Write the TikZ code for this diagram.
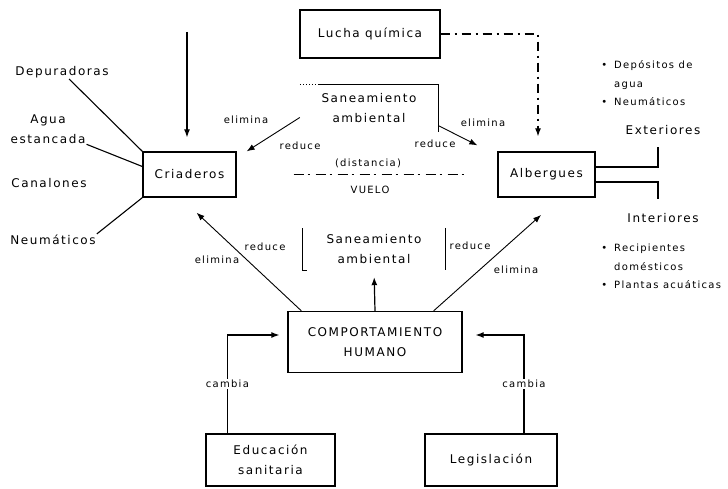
\documentclass[tikz,border=0pt]{standalone}
\usepackage{fontspec}
\setmainfont{DejaVu Sans}[LetterSpace=13]
\usetikzlibrary{arrows.meta}

\begin{document}
\begin{tikzpicture}[x=1pt,y=-1pt,>=Latex,
  font=\fontsize{12}{20}\selectfont,
  box/.style={draw,line width=1.3pt,align=center,inner sep=0pt},
  txt/.style={align=center,inner sep=1pt},
  item/.style={anchor=west,align=left,inner sep=1pt,font=\fontsize{10}{19}\selectfont},
  lbl/.style={inner sep=1pt,font=\fontsize{10}{12}\selectfont},
  ln/.style={line width=1.1pt},
  arr/.style={-{Latex[length=8pt,width=6pt]},line width=1.2pt},
  tarr/.style={-{Latex[length=8pt,width=6pt]},line width=0.9pt},
  darr/.style={arr,dash pattern=on 9pt off 5pt on 2pt off 5pt}]
\useasboundingbox (0,0) rectangle (728,489);
\node[box,minimum width=140pt,minimum height=48pt] (lucha) at (370,34) {Lucha química};
\node[txt,minimum width=138pt,minimum height=47pt] (san1) at (369,108.5) {Saneamiento\\ambiental};
\node[box,minimum width=93pt,minimum height=45pt] (crid) at (189.5,174.5) {Criaderos};
\node[box,minimum width=97pt,minimum height=45pt] (alb) at (546.5,174.5) {Albergues};
\node[txt,minimum width=142pt,minimum height=42pt] (san2) at (374,249) {Saneamiento\\ambiental};
\node[box,minimum width=174pt,minimum height=61pt] (comp) at (375,342) {COMPORTAMIENTO\\HUMANO};
\node[box,minimum width=129pt,minimum height=52pt] (edu) at (270.5,460) {Educación\\sanitaria};
\node[box,minimum width=132pt,minimum height=52pt] (leg) at (491,460) {Legislación};
\draw[ln,dotted] (san1.north west) -- ([xshift=18pt]san1.north west);
\draw[ln] ([xshift=18pt]san1.north west) -- (san1.north east) -- (san1.south east);
\draw[ln] ([xshift=4pt]san2.south west) -- (san2.south west) -- (san2.north west);
\draw[ln] (san2.north east) -- (san2.south east);

\node[txt] (dep) at (62,72) {Depuradoras};
\node[txt] (agua) at (48,129) {Agua\\estancada};
\node[txt] (can) at (49,183) {Canalones};
\node[txt] (neu) at (53,240) {Neumáticos};
\draw[ln] (dep) -- (crid.north west);
\draw[ln] (agua) -- ([yshift=8pt]crid.west);
\draw[ln] (neu.north east) -- (crid.south west);

\node[item] (depo) at (613,75) {\llap{\textbullet\hspace{7pt}}Depósitos de\\agua};
\node[item] (neu2) at (613,102) {\llap{\textbullet\hspace{7pt}}Neumáticos};
\node[txt] (ext) at (663,130) {Exteriores};
\node[txt] (int) at (663,218) {Interiores};
\node[item] (rec) at (613,257.5) {\llap{\textbullet\hspace{7pt}}Recipientes\\domésticos};
\node[item] (pla) at (613,285) {\llap{\textbullet\hspace{7pt}}Plantas acuáticas};
\draw[ln] ([yshift=7.5pt]alb.east) -| ([xshift=-5pt,yshift=-11pt]ext.south);
\draw[ln] ([yshift=-7.5pt]alb.east) -| ([xshift=-5pt,yshift=13pt]int.north);

\coordinate (top) at (187,32);
\draw[arr,shorten >=14pt] (top) -- ([xshift=-2.5pt]crid.north);
\draw[darr,shorten >=15pt] (lucha.east) -| ([xshift=-8.5pt]alb.north);

\draw[tarr] ([yshift=-9pt]san1.west) -- ([xshift=10pt]crid.north east);
\draw[tarr] ([yshift=-17pt]san1.east) -- ([xshift=-20pt,yshift=6pt]alb.north west);
\node[lbl] (e1) at (246,120) {elimina};
\node[lbl] (r1) at (300,146) {reduce};
\node[lbl] (e2) at (483,123) {elimina};
\node[lbl] (r2) at (435,144) {reduce};

\draw[ln,dash pattern=on 10pt off 4pt on 2pt off 6pt,shorten <=57pt,shorten >=31pt] (crid.east) -- (alb.west);
\node[lbl] (dist) at (368,163) {(distancia)};
\node[lbl] (vue) at (370,190) {VUELO};

\draw[tarr,shorten >=22pt] ([xshift=14pt]comp.north west) -- ([xshift=-9pt]crid.south);
\draw[tarr,shorten >=26pt] ([xshift=-29pt]comp.north east) -- ([xshift=14pt]alb.south);
\node[lbl] (r3) at (265,247) {reduce};
\node[lbl] (e3) at (217,260) {elimina};
\node[lbl] (r4) at (470,246) {reduce};
\node[lbl] (e4) at (516,270) {elimina};
\draw[arr,shorten >=7pt] (comp.north) -- (san2.south);

\draw[arr,shorten >=8pt] ([xshift=22pt]edu.north west) |- node[lbl,fill=white,pos=0.25] (c1) {cambia} ([yshift=7pt]comp.west);
\draw[arr,shorten >=13pt] ([xshift=33pt]leg.north) |- node[lbl,fill=white,pos=0.25] (c2) {cambia} ([yshift=7pt]comp.east);
\end{tikzpicture}
\end{document}
